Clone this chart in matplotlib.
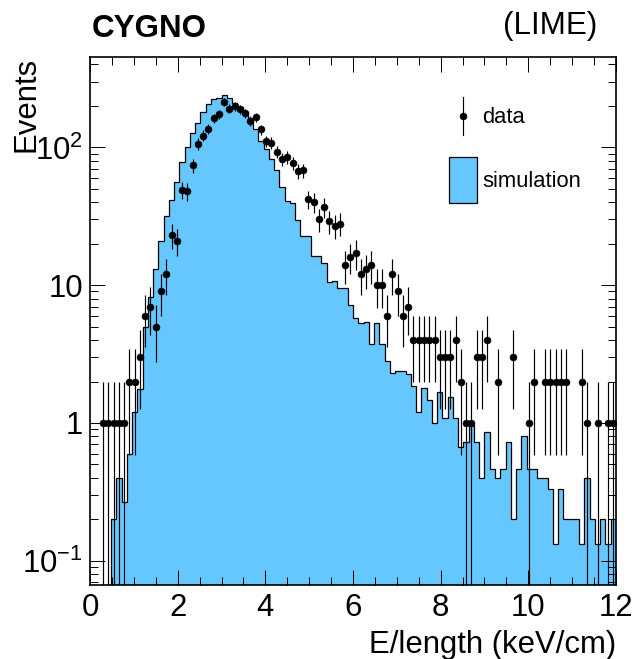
import numpy as np
import matplotlib
matplotlib.use('Agg')
import matplotlib.pyplot as plt
from matplotlib.lines import Line2D
from matplotlib.patches import Rectangle
from matplotlib.ticker import FixedLocator, NullFormatter

plt.rcParams['font.family'] = ['Liberation Sans', 'DejaVu Sans']
plt.rcParams['mathtext.fontset'] = 'custom'
plt.rcParams['mathtext.rm'] = 'Liberation Sans'
plt.rcParams['mathtext.default'] = 'regular'

W, H = 636, 659

# 100 bins between 0 and 12 keV/cm
edges = np.linspace(0, 12, 101)

sim = [0, 0, 0, 0, 0.2, 0.4, 0.267, 0.6, 1.2, 1.75,
       5, 8.2, 13.1, 20.8, 31.9, 41.6, 56.5, 78.9, 100, 127,
       150, 182, 205, 225, 227, 241, 227, 209, 197, 182,
       163, 135, 112, 97.5, 82.6, 68, 52, 40.5, 39.4, 29.5,
       22.9, 22.9, 16.4, 16.4, 14.5, 10.6, 10.7, 9.6, 9.5, 7.2,
       5.8, 5.3, 5.4, 3.75, 5.3, 3.75, 2.8, 2.3, 2.4, 2.4,
       2.25, 1.87, 1.2, 1.8, 1.48, 1.0, 1.67, 1.08, 1.54, 1.08,
       0.667, 0.733, 0.96, 0.733, 0.4, 0.867, 0.467, 0.4, 0.467, 0.733,
       0.2, 0.467, 0.8, 0.467, 0.467, 0.4, 0.4, 0.333, 0.133, 0.333,
       0.2, 0.2, 0.2, 0.133, 0.4, 0.2, 0.133, 0.2, 0.133, 0.2]

data = [0, 0, 1, 1, 1, 1, 1, 2, 2, 3,
        6, 7, 5, 9, 12, 23, 21, 49, 48, 74,
        106, 122, 137, 163, 174, 215, 191, 199, 189, 177,
        156, 165, 135, 111, 108, 93, 82, 85, 77, 67,
        68, 42, 40, 30, 37, 29, 27, 28, 14, 16,
        17, 12, 13, 14, 10, 10, 6, 12, 9, 6,
        7, 4, 4, 4, 4, 4, 3, 3, 3, 4,
        2, 1, 1, 3, 3, 4, 0, 2, 0, 0,
        3, 0, 0, 1, 2, 0, 2, 2, 2, 2,
        2, 0, 0, 2, 1, 0, 1, 0, 1, 1]

sim = np.array(sim, float)
data = np.array(data, float)
centers = 0.5 * (edges[:-1] + edges[1:])
filled = data > 0

x_ticks = [0, 2, 4, 6, 8, 10, 12]
y_ticks = [0.1, 1, 10, 100]
y_labels = [r'$10^{-1}$', '1', '10', r'$10^{2}$']

blue = '#66c7ff'

fig = plt.figure(figsize=(W / 100, H / 100), dpi=100)
ax = fig.add_axes([90 / W, 1 - 585 / H, 526 / W, 528 / H])
ax.set_yscale('log')

floor = 1e-3
ax.stairs(np.maximum(sim, floor), edges, baseline=floor, fill=True, color=blue, lw=0)
ax.stairs(np.maximum(sim, floor), edges, baseline=floor, color='black', lw=0.9)

ax.errorbar(centers[filled], data[filled], yerr=np.sqrt(data[filled]), fmt='o',
            color='black', ms=5, mew=0.4, elinewidth=0.85, capsize=0)

ax.set_xlim(0, 12)
ax.set_ylim(0.0667, 453)

# ROOT style ticks on all four sides
ax.set_xticks(x_ticks)
ax.xaxis.set_minor_locator(FixedLocator(np.arange(0, 12.1, 0.5)))
ax.set_yticks(y_ticks)
ax.set_yticklabels(y_labels)
minor_y = [m * 10.0**e for e in range(-2, 3) for m in range(2, 10)]
ax.yaxis.set_minor_locator(FixedLocator(minor_y))
ax.yaxis.set_minor_formatter(NullFormatter())
ax.tick_params(which='major', direction='in', length=11, width=0.7,
               top=True, right=True, labelsize=22.4)
ax.tick_params(which='minor', direction='in', length=5.5, width=0.7,
               top=True, right=True)
ax.tick_params(axis='x', which='major', pad=6)
ax.tick_params(axis='y', which='major', pad=5)
for s in ax.spines.values():
    s.set_linewidth(1.2)
    s.set_zorder(5)


def label(x, y, txt, **kw):
    fig.text(x / W, 1 - y / H, txt, va='baseline', **kw)


label(616.5, 653, 'E/length (keV/cm)', ha='right', fontsize=22.4)
label(35, 57, 'Events', ha='right', rotation=90, rotation_mode='anchor', fontsize=22.4)
label(92, 37, 'CYGNO', ha='left', fontsize=22.6, fontweight='bold')
label(503, 34, '(LIME)', ha='left', fontsize=22.6)
label(482.5, 123, 'data', ha='left', fontsize=15.8)
label(482.5, 187, 'simulation', ha='left', fontsize=15.8)

# legend keys
fig.add_artist(Line2D([462.5 / W] * 2, [1 - 97 / H, 1 - 135 / H], color='black', lw=0.85))
fig.add_artist(Line2D([462.5 / W], [1 - 116 / H], marker='o', ms=5, mew=0.4, color='black'))
fig.add_artist(Rectangle((448.5 / W, 1 - 202.5 / H), 28 / W, 45.5 / H,
                         facecolor=blue, edgecolor='black', lw=0.9,
                         transform=fig.transFigure))

fig.savefig('out.png', dpi=100)
